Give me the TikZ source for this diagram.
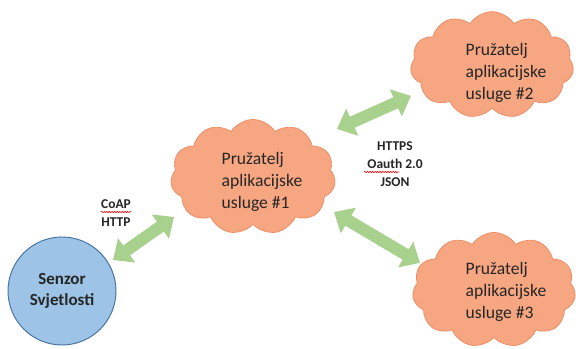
\documentclass[tikz,border=0pt]{standalone}
\usepackage{fontspec}
\setmainfont{Carlito}
\usetikzlibrary{shapes.symbols,shapes.geometric,arrows.meta,decorations.pathmorphing}
\definecolor{cloudfill}{RGB}{247,166,130}
\definecolor{cloudline}{RGB}{236,138,98}
\definecolor{sensfill}{RGB}{157,195,230}
\definecolor{sensline}{RGB}{65,113,156}
\definecolor{arrowgreen}{RGB}{169,209,142}
\definecolor{txt}{RGB}{38,38,38}
\begin{document}
\begin{tikzpicture}[x=0.03cm,y=-0.03cm,
  provider/.style={cloud, cloud puffs=11, cloud puff arc=115, cloud ignores aspect,
    fill=cloudfill, draw=cloudline, line width=0.6pt, inner sep=0pt},
  ptext/.style={align=left, font=\fontsize{15}{18.5}\selectfont, text=txt, inner sep=0pt},
  sensor/.style={circle, fill=sensfill, draw=sensline, line width=0.8pt,
    minimum size=3.24cm, inner sep=0pt, align=center,
    font=\bfseries\fontsize{14.5}{18.5}\selectfont, text=txt},
  biarrow/.style={draw=arrowgreen, line width=0.36cm,
    {Triangle[width=0.86cm,length=0.5cm]}-{Triangle[width=0.86cm,length=0.5cm]}},
  proto/.style={align=center, font=\bfseries\fontsize{11.5}{15.5}\selectfont, text=txt, inner sep=0pt},
  squiggle/.style={draw=red, line width=0.5pt, decorate,
    decoration={snake, segment length=2.2pt, amplitude=0.6pt}}
]
\useasboundingbox (0,0) rectangle (576,349);
\fill[white] (0,0) rectangle (576,349);

% clouds
\node[provider, minimum width=4.95cm, minimum height=3.45cm] (c1) at (253,177) {};
\node[provider, minimum width=4.9cm, minimum height=3.2cm] (c2) at (492,65) {};
\node[provider, minimum width=4.9cm, minimum height=3.45cm] (c3) at (494,290) {};
\node[ptext] (t1) at (262,182) {Pružatelj\\aplikacijske\\usluge \#1};
\node[ptext] (t2) at (506,73) {Pružatelj\\aplikacijske\\usluge \#2};
\node[ptext] (t3) at (506,292) {Pružatelj\\aplikacijske\\usluge \#3};

% sensor
\node[sensor] (s) at (62,291) {Senzor\\Svjetlosti};

% arrow end points
\coordinate (a1s) at (113,260);
\coordinate (a1e) at (174,217);
\coordinate (a2s) at (337,129);
\coordinate (a2e) at (411,96);
\coordinate (a3s) at (334,212);
\coordinate (a3e) at (420,263);
\draw[biarrow] (a1s) -- (a1e);
\draw[biarrow] (a2s) -- (a2e);
\draw[biarrow] (a3s) -- (a3e);

% protocol labels
\node[proto] (p1) at (116,213) {CoAP\\HTTP};
\node[proto] (p2) at (395,164) {HTTPS\\Oauth 2.0\\JSON};
\draw[squiggle] (101,212) -- (131,212);
\draw[squiggle] (364,172) -- (399,172);
\end{tikzpicture}
\end{document}
